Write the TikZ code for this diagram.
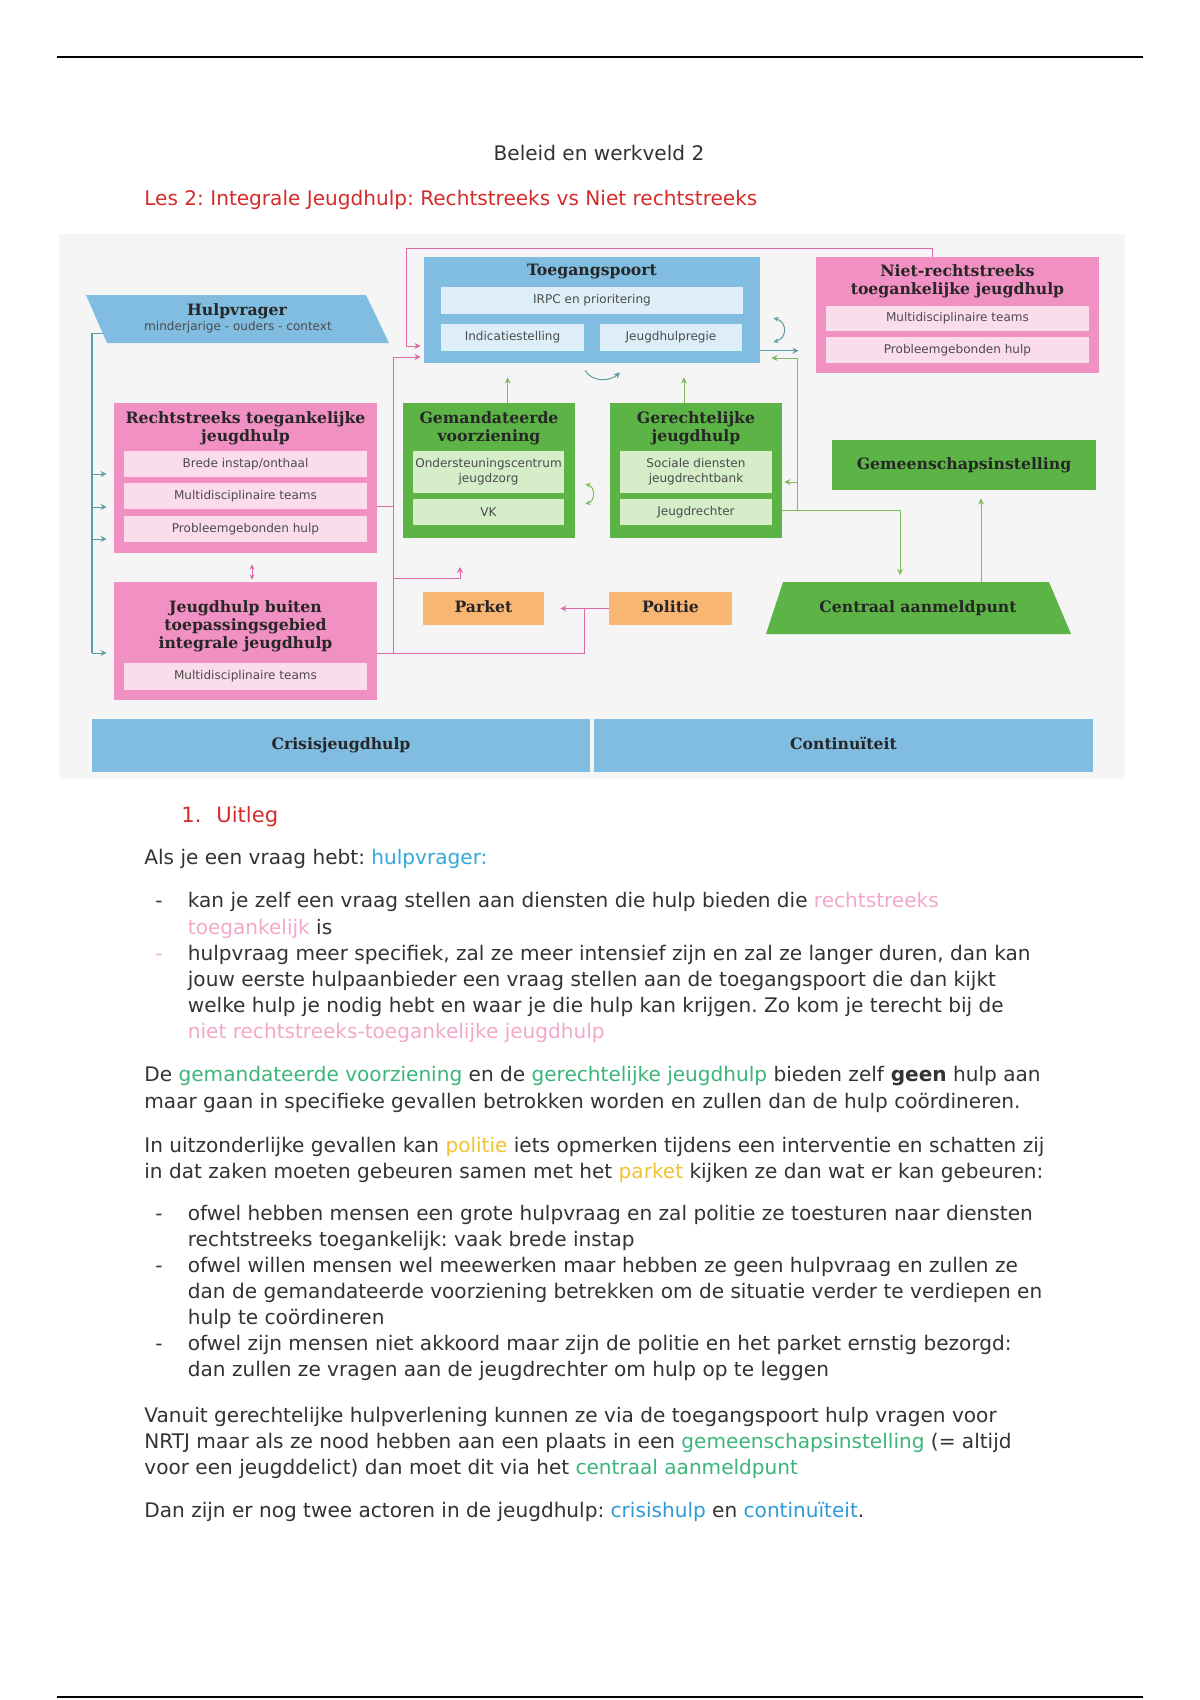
\documentclass[tikz,border=0pt]{standalone}
\usepackage{fontspec}
\setmainfont{DejaVu Sans}
\newfontfamily\slabfont{DejaVu Serif}
\usetikzlibrary{arrows.meta, positioning, fit}

\definecolor{jhblue}{HTML}{80BDE1}
\definecolor{jhbluelt}{HTML}{DDEEF8}
\definecolor{jhpink}{HTML}{F190C3}
\definecolor{jhpinklt}{HTML}{FBDCEB}
\definecolor{jhgreen}{HTML}{5DB446}
\definecolor{jhgreenlt}{HTML}{D5EDC8}
\definecolor{jhorange}{HTML}{F9B572}
\definecolor{jhbg}{HTML}{F5F5F5}
\definecolor{lnteal}{HTML}{5E9DA6}
\definecolor{lnpink}{HTML}{DD6AA6}
\definecolor{lngreen}{HTML}{7DBB5E}
\definecolor{txtgray}{HTML}{333333}
\definecolor{kopred}{HTML}{D42B2B}
\definecolor{hlsky}{HTML}{33A9D9}
\definecolor{hlpink}{HTML}{F3A8CA}
\definecolor{hlgreen}{HTML}{3DB57A}
\definecolor{hlyellow}{HTML}{F2C232}
\definecolor{hlblue}{HTML}{2F9BD6}

\newcommand{\kleur}[2]{\textcolor{#1}{#2}}
\frenchspacing

\begin{document}
\begin{tikzpicture}[x=0.0175cm, y=-0.0175cm,
    blok/.style={inner sep=0pt, draw=none},
    sub/.style={inner sep=0pt, font=\fontsize{6}{7.5}\selectfont,
                text=black!70, align=center},
    ttl/.style={font=\slabfont\bfseries\fontsize{7.8}{9}\selectfont,
                text=black!85, align=center, inner sep=0pt},
    ttlone/.style={ttl, text height=6pt, text depth=1.8pt},
    body/.style={anchor=base west, inner sep=0pt,
                 font=\fontsize{10}{12}\selectfont, text=txtgray},
    arr/.style={-{Stealth[length=3pt, width=3pt]}, line width=0.5pt},
    dbl/.style={{Stealth[length=2.5pt, width=2.5pt]}-{Stealth[length=2.5pt, width=2.5pt]},
                line width=0.5pt},
    ln/.style={line width=0.5pt},
  ]
    \fill[white] (0,0) rectangle (1200,1700);
    \useasboundingbox (0,0) rectangle (1200,1700);

    % Kop
    \draw[line width=1pt] (57,57) -- (1143,57);
    \draw[line width=1.2pt] (57,1697) -- (1143,1697);
    \node[body, anchor=base] (kop) at (599,160) {Beleid en werkveld 2};
    \node[body, text=kopred] (les) at (144,205)
      {Les 2: Integrale Jeugdhulp: Rechtstreeks vs Niet rechtstreeks};

    % Schema
    \fill[jhbg] (58.5,234) rectangle (1125,779);

    \fill[jhblue] (86,295) -- (366,295) -- (389,343) -- (107,343) -- cycle;
    \node[ttl] (hv) at (237,311) {Hulpvrager};
    \node[sub] (hvsub) at (238,327) {minderjarige - ouders - context};
    \coordinate (hvl) at (102.6,333);

    \node[blok, fill=jhblue, fit={(424,257) (760,363)}] (tp) {};
    \node[ttl] (tpt) at (592,272) {Toegangspoort};
    \node[blok, fill=jhbluelt, fit={(441,287) (743,314)},
          label={[sub]center:IRPC en prioritering}] (irpc) {};
    \node[blok, fill=jhbluelt, fit={(441,324) (584,351)},
          label={[sub]center:Indicatiestelling}] (ind) {};
    \node[blok, fill=jhbluelt, fit={(600,324) (742,351)},
          label={[sub]center:Jeugdhulpregie}] (regie) {};

    \node[blok, fill=jhpink, fit={(816,257) (1099,373)}] (nrtj) {};
    \node[ttl] (nrtjt) at (957.5,281) {Niet-rechtstreeks\\toegankelijke jeugdhulp};
    \node[blok, fill=jhpinklt, fit={(826,306) (1089,331)},
          label={[sub]center:Multidisciplinaire teams}] (nmt) {};
    \node[blok, fill=jhpinklt, fit={(826,337) (1089,363)},
          label={[sub]center:Probleemgebonden hulp}] (nph) {};

    \node[blok, fill=jhpink, fit={(114,403) (377,553)}] (rtj) {};
    \node[ttl] (rtjt) at (245.5,428) {Rechtstreeks toegankelijke\\jeugdhulp};
    \node[blok, fill=jhpinklt, fit={(124,451) (367,477)},
          label={[sub]center:Brede instap/onthaal}] (bi) {};
    \node[blok, fill=jhpinklt, fit={(124,483) (367,509)},
          label={[sub]center:Multidisciplinaire teams}] (rmt) {};
    \node[blok, fill=jhpinklt, fit={(124,516) (367,542)},
          label={[sub]center:Probleemgebonden hulp}] (rph) {};

    \node[blok, fill=jhgreen, fit={(403,403) (575,538)}] (gv) {};
    \node[ttl] (gvt) at (489,428) {Gemandateerde\\voorziening};
    \node[blok, fill=jhgreenlt, fit={(413,451) (564,493)},
          label={[sub]center:{Ondersteuningscentrum\\jeugdzorg}}] (ocj) {};
    \node[blok, fill=jhgreenlt, fit={(413,499) (564,525)},
          label={[sub]center:VK}] (vk) {};

    \node[blok, fill=jhgreen, fit={(610,403) (782,538)}] (gj) {};
    \node[ttl] (gjt) at (696,428) {Gerechtelijke\\jeugdhulp};
    \node[blok, fill=jhgreenlt, fit={(620,451) (772,493)},
          label={[sub]center:{Sociale diensten\\jeugdrechtbank}}] (sdj) {};
    \node[blok, fill=jhgreenlt, fit={(620,499) (772,525)},
          label={[sub]center:Jeugdrechter}] (jr) {};

    \node[blok, fill=jhgreen, fit={(832,440) (1096,490)}] (gi) {};
    \node[ttl] (git) at (964,465) {Gemeenschapsinstelling};

    \node[blok, fill=jhpink, fit={(114,582) (377,700)}] (jb) {};
    \node[ttl] (jbt) at (245.5,626) {Jeugdhulp buiten\\toepassingsgebied\\integrale jeugdhulp};
    \node[blok, fill=jhpinklt, fit={(124,663) (367,690)},
          label={[sub]center:Multidisciplinaire teams}] (jmt) {};

    \node[blok, fill=jhorange, fit={(423,592) (544,625)},
          label={[ttlone]center:Parket}] (parket) {};
    \node[blok, fill=jhorange, fit={(609,592) (732,625)},
          label={[ttlone]center:Politie}] (politie) {};

    \fill[jhgreen] (783,582) -- (1049,582) -- (1071,634) -- (766,634) -- cycle;
    \node[ttl] (cap) at (918,608) {Centraal aanmeldpunt};
    \coordinate (captop) at (918,582);

    \node[blok, fill=jhblue, fit={(92,719) (590,772)},
          label={[ttlone]center:Crisisjeugdhulp}] (crisis) {};
    \node[blok, fill=jhblue, fit={(594,719) (1093,772)},
          label={[ttlone]center:Continuïteit}] (cont) {};

    % Verbindingen
    \draw[ln, lnteal] (hvl) -- (92,333) -- (92,653);
    \foreach \y in {474,507,539}
      \draw[arr, lnteal, shorten >=3.5pt] (92,\y) -- (rtj.west |- 0,\y);
    \draw[arr, lnteal, shorten >=3.5pt] (92,653) -- (jb.west |- 0,653);
    \draw[arr, lnteal, shorten >=8.5pt] (tp.east |- 0,350.7) -- (nrtj.west |- 0,350.7);

    \draw[arr, lnpink, shorten >=1.5pt] (nrtj.north -| 932,0) -- (932,248)
      -- (406,248) -- (406,346) -- (tp.west |- 0,346);
    \draw[ln, lnpink] (rtj.east |- 0,506) -- (393.6,506);
    \draw[arr, lnpink, shorten >=1.5pt] (jb.east |- 0,653) -- (393.6,653)
      -- (393.6,357) -- (tp.west |- 0,357);
    \draw[ln, lnpink] (393.6,653) -- (584,653) -- (584,608.5);
    \draw[arr, lnpink, shorten >=8pt] (politie.west) -- (parket.east);
    \draw[arr, lnpink] (393.6,578) -- (460,578) -- (460,567);
    \draw[dbl, lnpink, shorten <=5.5pt, shorten >=1pt]
      (252,0 |- rtj.south) -- (252,0 |- jb.north);

    \draw[arr, lngreen, shorten >=7pt] (507.7,0 |- gv.north) -- (507.7,0 |- tp.south);
    \draw[arr, lngreen, shorten >=7pt] (684,0 |- gj.north) -- (684,0 |- tp.south);
    \draw[ln, lngreen] (gj.east |- 0,510) -- (900,510);
    \draw[arr, lngreen, shorten >=3.5pt] (900,510) -- (captop -| 900,0);
    \draw[arr, lngreen, shorten >=5.5pt] (797,510) -- (797,358) -- (tp.east |- 0,358);
    \draw[arr, lngreen, shorten >=1pt] (797,482) -- (gj.east |- 0,482);
    \draw[arr, lngreen, shorten >=4pt] (981,0 |- captop) -- (981,0 |- gi.south);

    % Kringetjes
    \draw[arr, lnteal] ([shift={(-7,7)}]tp.south)
      .. controls ([shift={(0,19)}]tp.south) and ([shift={(18,18)}]tp.south)
      .. ([shift={(28,9)}]tp.south);
    \draw[dbl, lnteal] ([shift={(13,8)}]tp.east)
      .. controls ([shift={(27,12)}]tp.east) and ([shift={(27,28)}]tp.east)
      .. ([shift={(13,32)}]tp.east);
    \draw[dbl, lngreen] ([shift={(10,13.5)}]gv.east)
      .. controls ([shift={(20,16.5)}]gv.east) and ([shift={(20,30.5)}]gv.east)
      .. ([shift={(10,33.5)}]gv.east);

    % Uitleg
    \node[body, text=kopred, font=\fontsize{10.5}{12}\selectfont] (h1) at (181,822) {1.};
    \node[body, text=kopred, font=\fontsize{10.5}{12}\selectfont] (h1b) at (216,822) {Uitleg};
    \foreach \y [count=\i] in {907,1220,1272,1350}
      \node[body] (d\i) at (155,\y) {-};
    \node[body, text=hlpink] (d5) at (155,960) {-};
    \foreach \x/\y/\txt [count=\i] in {
        144/864/{Als je een vraag hebt: \kleur{hlsky}{hulpvrager:}},
        187.5/907/{kan je zelf een vraag stellen aan diensten die hulp bieden die \kleur{hlpink}{rechtstreeks}},
        187.5/934/{\kleur{hlpink}{toegankelijk} is},
        187.5/960/{hulpvraag meer specifiek, zal ze meer intensief zijn en zal ze langer duren, dan kan},
        187.5/986/{jouw eerste hulpaanbieder een vraag stellen aan de toegangspoort die dan kijkt},
        187.5/1012/{welke hulp je nodig hebt en waar je die hulp kan krijgen. Zo kom je terecht bij de},
        187.5/1038/{\kleur{hlpink}{niet rechtstreeks-toegankelijke jeugdhulp}},
        144/1081/{De \kleur{hlgreen}{gemandateerde voorziening} en de \kleur{hlgreen}{gerechtelijke jeugdhulp} bieden zelf \textbf{geen} hulp aan},
        144/1108/{maar gaan in specifieke gevallen betrokken worden en zullen dan de hulp coördineren.},
        144/1152/{In uitzonderlijke gevallen kan \kleur{hlyellow}{politie} iets opmerken tijdens een interventie en schatten zij},
        144/1178/{in dat zaken moeten gebeuren samen met het \kleur{hlyellow}{parket} kijken ze dan wat er kan gebeuren:},
        187.5/1220/{ofwel hebben mensen een grote hulpvraag en zal politie ze toesturen naar diensten},
        187.5/1246/{rechtstreeks toegankelijk: vaak brede instap},
        187.5/1272/{ofwel willen mensen wel meewerken maar hebben ze geen hulpvraag en zullen ze},
        187.5/1298/{dan de gemandateerde voorziening betrekken om de situatie verder te verdiepen en},
        187.5/1324/{hulp te coördineren},
        187.5/1350/{ofwel zijn mensen niet akkoord maar zijn de politie en het parket ernstig bezorgd:},
        187.5/1376/{dan zullen ze vragen aan de jeugdrechter om hulp op te leggen},
        144/1422/{Vanuit gerechtelijke hulpverlening kunnen ze via de toegangspoort hulp vragen voor},
        144/1448/{NRTJ maar als ze nood hebben aan een plaats in een \kleur{hlgreen}{gemeenschapsinstelling} (= altijd},
        144/1474/{voor een jeugddelict) dan moet dit via het \kleur{hlgreen}{centraal aanmeldpunt}},
        144/1517/{Dan zijn er nog twee actoren in de jeugdhulp: \kleur{hlblue}{crisishulp} en \kleur{hlblue}{continuïteit}.}}
      \node[body] (t\i) at (\x,\y) {\txt};
  \end{tikzpicture}
\end{document}
